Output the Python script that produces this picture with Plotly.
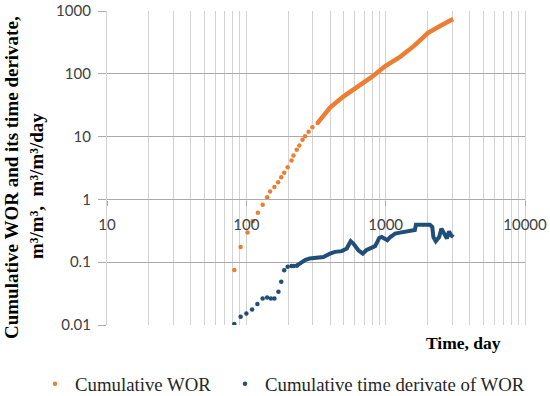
import plotly.graph_objects as go

# ---- data ----
# Cumulative WOR – early, well separated points
wor_days_early = [82, 91, 102, 111, 121, 131, 141, 148, 159, 169, 178, 187, 198,
                  211, 218, 230, 240, 253, 264, 280, 298, 325]
wor_early = [0.075, 0.175, 0.296, 0.448, 0.615, 0.824, 1.08, 1.34, 1.57, 1.88, 2.26,
             2.65, 3.26, 4.16, 4.99, 6.15, 7.2, 8.87, 10.1, 12.0, 14.1, 16.5]
# Cumulative WOR – dense part (points merge into a band)
wor_days_late = [325, 399, 494, 593, 688, 799, 1000, 1269, 1599, 2016, 2458, 3047]
wor_late = [16.5, 29.0, 43.0, 56.0, 72.0, 90.0, 134, 186, 278, 448, 578, 746]

# Cumulative time derivative of WOR – early points
der_days_early = [82, 91, 100, 110, 120, 131, 141, 150, 159, 170, 178, 187, 198,
                  211, 218, 230]
der_early = [0.0104, 0.0135, 0.0153, 0.0177, 0.0216, 0.0265, 0.0275, 0.0265, 0.0265,
             0.0338, 0.0487, 0.0746, 0.0843, 0.087, 0.087, 0.088]
# Cumulative time derivative of WOR – dense part
der_days_late = [230, 243, 264, 285, 320, 357, 399, 433, 484, 526, 561, 586, 637, 685,
                 725, 794, 839, 871, 899, 937, 1000, 1028, 1080, 1170, 1268, 1377,
                 1535, 1620, 1650, 1868, 2075, 2160, 2200, 2290, 2420, 2515, 2630,
                 2750, 2850, 2950, 3060]
der_late = [0.088, 0.095, 0.108, 0.115, 0.119, 0.121, 0.137, 0.146, 0.150, 0.165,
            0.216, 0.198, 0.155, 0.137, 0.155, 0.169, 0.180, 0.210, 0.243, 0.252,
            0.238, 0.224, 0.252, 0.285, 0.296, 0.303, 0.322, 0.325, 0.396, 0.400,
            0.396, 0.363, 0.252, 0.216, 0.252, 0.343, 0.285, 0.238, 0.310, 0.268,
            0.252]

x_tick_vals = [10, 100, 1000, 10000]
x_tick_text = ["10", "100", "1000", "10000"]
y_tick_vals = [0.01, 0.1, 1, 10, 100, 1000]
y_tick_text = ["0.01", "0.1", "1", "10", "100", "1000"]

series_names = ["Cumulative WOR", "Cumulative time derivate of WOR"]
y_title_lines = ["Cumulative WOR and its time derivate,", "m³/m³,\u00a0\u00a0m³/m³/day"]
x_title = "Time, day"

# ---- styling ----
ORANGE = "#ED7D31"
BLUE = "#1F4E79"
VGRID = "#D3D3D3"
HGRID = "#ABABAB"
TICKFONT = dict(family="Lato", size=15, color="#404040")
SERIF = "Liberation Serif"
LEGFONT = dict(family=SERIF, size=18.8, color="#262626")

minor_x = [m * 10 ** e for e in range(1, 4) for m in range(2, 10)]

fig = go.Figure()
fig.add_trace(go.Scatter(x=wor_days_early, y=wor_early, mode="markers",
                         name=series_names[0], legend="legend",
                         marker=dict(color=ORANGE, size=4.5)))
fig.add_trace(go.Scatter(x=wor_days_late, y=wor_late, mode="lines",
                         showlegend=False,
                         line=dict(color=ORANGE, width=4.5)))
fig.add_trace(go.Scatter(x=der_days_early, y=der_early, mode="markers",
                         name=series_names[1], legend="legend2",
                         marker=dict(color=BLUE, size=4.5)))
fig.add_trace(go.Scatter(x=der_days_late, y=der_late, mode="lines",
                         showlegend=False,
                         line=dict(color=BLUE, width=4)))

fig.update_xaxes(type="log", range=[1, 4], anchor="free", position=0.4,
                 tickmode="array", tickvals=x_tick_vals, ticktext=x_tick_text,
                 showgrid=True, gridcolor=VGRID, gridwidth=1.3,
                 showline=True, linecolor=HGRID, linewidth=1.3,
                 ticks="outside", ticklen=5, tickcolor=HGRID, tickwidth=1.3,
                 ticklabelstandoff=6, tickfont=TICKFONT, zeroline=False,
                 minor=dict(tickmode="array", tickvals=minor_x, showgrid=True,
                            gridcolor=VGRID, gridwidth=1.3, ticks=""))
fig.update_yaxes(type="log", range=[-2, 3], domain=[0, 1],
                 tickmode="array", tickvals=y_tick_vals, ticktext=y_tick_text,
                 showgrid=True, gridcolor=HGRID, gridwidth=1.3,
                 showline=True, linecolor=VGRID, linewidth=1.3, mirror=True,
                 ticks="outside", ticklen=8, tickcolor=HGRID, tickwidth=1.3,
                 ticklabelstandoff=4, tickfont=TICKFONT, zeroline=False)

fig.add_annotation(text=y_title_lines[0], xref="paper", yref="paper",
                   x=-0.2297, y=0.4713, xanchor="center", yanchor="middle",
                   textangle=-90, showarrow=False,
                   font=dict(family=SERIF, size=19, color="#000000", weight="bold"))
fig.add_annotation(text=y_title_lines[1], xref="paper", yref="paper",
                   x=-0.1675, y=0.4427, xanchor="center", yanchor="middle",
                   textangle=-90, showarrow=False,
                   font=dict(family=SERIF, size=19, color="#000000", weight="bold"))
fig.add_annotation(text=x_title, xref="paper", yref="paper",
                   x=0.854, y=-0.0573, xanchor="center", yanchor="middle",
                   showarrow=False,
                   font=dict(family=SERIF, size=17.5, color="#000000", weight="bold"))

fig.update_layout(
    width=550, height=396,
    margin=dict(l=107, r=25, t=11, b=71, autoexpand=False),
    paper_bgcolor="white", plot_bgcolor="white",
    showlegend=True,
    legend=dict(orientation="h", x=-0.1722, y=-0.188, xanchor="left", yanchor="middle",
                font=LEGFONT, itemsizing="trace", bgcolor="rgba(0,0,0,0)"),
    legend2=dict(orientation="h", x=0.2823, y=-0.188, xanchor="left", yanchor="middle",
                 font=LEGFONT, itemsizing="trace", bgcolor="rgba(0,0,0,0)"),
)

fig.write_html("out.html", config={"displayModeBar": False},
               post_script="document.body.style.margin='0px';")
